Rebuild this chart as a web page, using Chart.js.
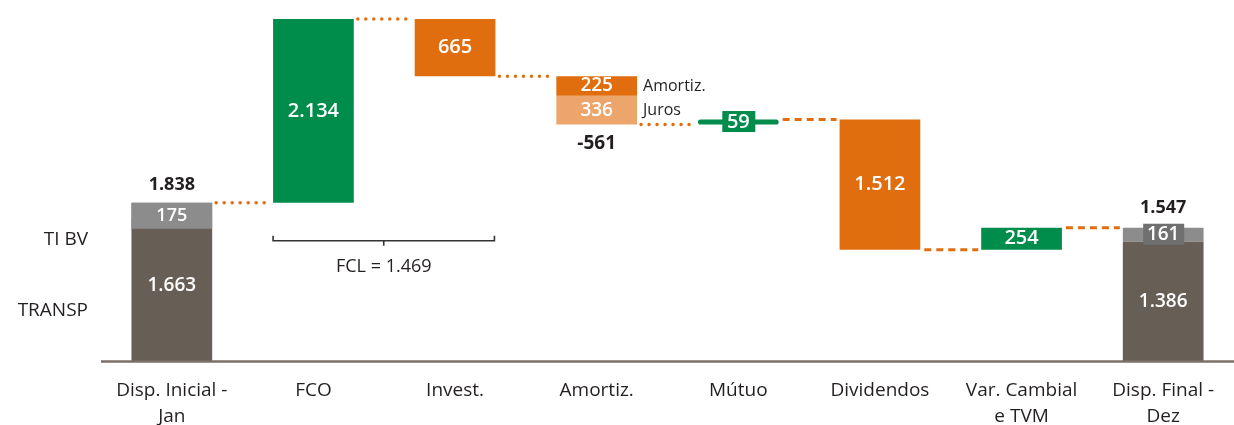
<!DOCTYPE html>
<html>
<head>
    <meta charset="utf-8" />
    <title>Fluxo de caixa</title>
    <style>
        body { margin: 0; background: #fff; overflow: hidden; }
        #contenedorGrafico { width: 1234px; height: 425px; }
    </style>
</head>
<body>
<div id="contenedorGrafico">
    <canvas id="canvasFluxo"></canvas>
</div>
<script type="text/javascript" src="https://cdn.jsdelivr.net/npm/chart.js@4/dist/chart.umd.min.js"></script>
<script type="text/javascript">

    var categorias = [['Disp. Inicial -', 'Jan'], 'FCO', 'Invest.', 'Amortiz.', 'Mútuo', 'Dividendos', ['Var. Cambial', 'e TVM'], ['Disp. Final -', 'Dez']];
    // saldos de abertura e fechamento: [TRANSP, TI BV]
    var saldoInicial = [1663, 175];
    var saldoFinal = [1386, 161];
    // FCO, Invest., Amortiz., Mútuo, Dividendos, Var. Cambial
    var variacoes = [2134, -665, -561, 59, -1512, 254];
    // Amortiz. dividida em principal e juros
    var amortizacao = [225, 336];
    var partesAmortiz = ['Amortiz.', 'Juros'];
    var segmentos = ['TI BV', 'TRANSP'];
    var fcl = 1469;

    var cores = {
        marrom: 'rgb(103, 94, 86)',
        cinza: 'rgb(140, 140, 140)',
        cinzaEscuro: 'rgb(112, 112, 112)',
        verde: 'rgb(0, 140, 75)',
        laranja: 'rgb(224, 110, 15)',
        laranjaClaro: 'rgb(236, 166, 108)',
        texto: '#231f20',
        base: 'rgb(123, 111, 103)'
    };

    var fmt = function (v) {
        var s = String(Math.abs(v)).replace(/\B(?=(\d{3})+(?!\d))/g, '.');
        return (v < 0 ? '-' : '') + s;
    };

    var nCat = categorias.length;
    var vazio = function () { return new Array(nCat).fill(null); };

    var transp = vazio(), tibv = vazio(), entradas = vazio(), saidas = vazio(), juros = vazio();
    var inicio = saldoInicial[0] + saldoInicial[1];
    var fim = saldoFinal[0] + saldoFinal[1];
    transp[0] = [0, saldoInicial[0]];
    tibv[0] = [saldoInicial[0], inicio];
    transp[nCat - 1] = [0, saldoFinal[0]];
    tibv[nCat - 1] = [saldoFinal[0], fim];

    // saldo acumulado depois de cada coluna
    var niveis = [inicio];
    var acumulado = inicio;
    var iAmortiz = categorias.indexOf('Amortiz.');
    var iMutuo = categorias.indexOf('Mútuo');
    variacoes.forEach(function (v, i) {
        var j = i + 1;
        var novo = acumulado + v;
        if (j === iAmortiz) {
            saidas[j] = [acumulado - amortizacao[0], acumulado];
            juros[j] = [novo, acumulado - amortizacao[0]];
        } else if (v >= 0) {
            entradas[j] = [acumulado, novo];
        } else {
            saidas[j] = [novo, acumulado];
        }
        acumulado = novo;
        niveis.push(acumulado);
    });

    var rotulos = {
        id: 'rotulos',
        afterDatasetsDraw: function (chart) {
            var ctx = chart.ctx, area = chart.chartArea;
            var sx = chart.scales.x, sy = chart.scales.y;
            var larg = chart.getDatasetMeta(2).data[1].width;
            var cx = function (j) { return sx.getPixelForValue(j); };

            function texto(t, px, py, cor, peso, tam, alinh) {
                ctx.font = peso + ' ' + tam + 'px "Open Sans"';
                ctx.fillStyle = cor;
                ctx.textAlign = alinh || 'center';
                ctx.textBaseline = 'middle';
                ctx.fillText(t, px, py);
            }
            function meio(par) { return (sy.getPixelForValue(par[0]) + sy.getPixelForValue(par[1])) / 2; }

            ctx.save();

            // linha de base
            ctx.strokeStyle = cores.base;
            ctx.lineWidth = 2.5;
            ctx.beginPath();
            ctx.moveTo(area.left, sy.getPixelForValue(0) + 0.5);
            ctx.lineTo(area.right, sy.getPixelForValue(0) + 0.5);
            ctx.stroke();

            // conectores entre colunas
            ctx.strokeStyle = cores.laranja;
            for (var j = 0; j < niveis.length; j++) {
                var py = sy.getPixelForValue(niveis[j]);
                var x0 = cx(j) + larg / 2 + 4;
                var x1 = cx(j + 1) - larg / 2 - 3;
                if (j < iMutuo) {
                    ctx.setLineDash([0, 8]);
                    ctx.lineCap = 'round';
                    ctx.lineWidth = 3.5;
                } else {
                    ctx.setLineDash([7, 5]);
                    ctx.lineCap = 'butt';
                    ctx.lineWidth = 3;
                }
                ctx.beginPath();
                ctx.moveTo(x0, py);
                ctx.lineTo(x1, py);
                ctx.stroke();
            }
            ctx.setLineDash([]);
            ctx.lineCap = 'butt';

            var branco = '#ffffff';
            var ult = nCat - 1;

            // saldo inicial
            var topo0 = sy.getPixelForValue(inicio);
            ctx.fillStyle = cores.cinza;
            ctx.fillRect(cx(0) - larg / 2, topo0, larg, 26);
            texto(fmt(saldoInicial[1]), cx(0), topo0 + 13, branco, '600', 18);
            texto(fmt(saldoInicial[0]), cx(0), meio(transp[0]) - 4, branco, '600', 19);
            texto(fmt(inicio), cx(0), topo0 - 18, cores.texto, 'bold', 18);

            // saldo final
            var yTi = meio(tibv[ult]);
            ctx.fillStyle = cores.cinzaEscuro;
            ctx.fillRect(cx(ult) - 20, yTi - 11, 41, 21);
            texto(fmt(saldoFinal[1]), cx(ult), yTi, branco, '600', 19);
            texto(fmt(saldoFinal[0]), cx(ult), meio(transp[ult]), branco, '600', 19);
            texto(fmt(fim), cx(ult), sy.getPixelForValue(fim) - 20, cores.texto, 'bold', 18);

            // variações
            for (var k = 1; k < ult; k++) {
                var v = variacoes[k - 1];
                if (k === iAmortiz) {
                    var dir = cx(k) + larg / 2 + 6;
                    texto(fmt(amortizacao[0]), cx(k), meio(saidas[k]), branco, '600', 19);
                    texto(fmt(amortizacao[1]), cx(k), meio(juros[k]), branco, '600', 19);
                    texto(partesAmortiz[0], dir, meio(saidas[k]), cores.texto, 'normal', 16, 'left');
                    texto(partesAmortiz[1], dir, meio(juros[k]), cores.texto, 'normal', 16, 'left');
                    texto(fmt(v), cx(k), sy.getPixelForValue(juros[k][0]) + 19, cores.texto, 'bold', 19);
                } else if (k === iMutuo) {
                    var ym = meio(entradas[k]);
                    ctx.fillStyle = cores.verde;
                    ctx.fillRect(cx(k) - 16, ym - 11, 33, 21);
                    texto(fmt(v), cx(k), ym, branco, '600', 20);
                } else {
                    var par = v >= 0 ? entradas[k] : saidas[k];
                    texto(fmt(Math.abs(v)), cx(k), meio(par), branco, '600', 20);
                }
            }

            // chave do FCL sob FCO e Invest.
            var bx0 = cx(1) - larg / 2, bx1 = cx(2) + larg / 2 - 1;
            var by = sy.getPixelForValue(inicio) + 38;
            var bm = (bx0 + bx1) / 2;
            ctx.strokeStyle = '#333333';
            ctx.lineWidth = 1.6;
            ctx.beginPath();
            ctx.moveTo(bx0, by - 5);
            ctx.lineTo(bx0, by);
            ctx.lineTo(bx1, by);
            ctx.lineTo(bx1, by - 5);
            ctx.moveTo(bm, by);
            ctx.lineTo(bm, by + 5);
            ctx.stroke();
            texto('FCL = ' + fmt(fcl), bm, by + 26, cores.texto, 'normal', 18);

            // nomes dos segmentos à esquerda
            texto(segmentos[0], area.left - 13, area.bottom - 121, cores.texto, 'normal', 19, 'right');
            texto(segmentos[1], area.left - 13, area.bottom - 50, cores.texto, 'normal', 19, 'right');

            ctx.restore();
        }
    };

    var raio = function (c) { return c.dataIndex === iMutuo ? 3 : 0; };

    var config = {
        type: 'bar',
        data: {
            labels: categorias,
            datasets: [
                { label: 'TRANSP', data: transp, backgroundColor: cores.marrom },
                { label: 'TI BV', data: tibv, backgroundColor: cores.cinza },
                { label: 'Entradas', data: entradas, backgroundColor: cores.verde, borderRadius: raio, borderSkipped: false },
                { label: 'Saídas', data: saidas, backgroundColor: cores.laranja },
                { label: 'Juros', data: juros, backgroundColor: cores.laranjaClaro }
            ]
        },
        options: {
            responsive: true,
            maintainAspectRatio: false,
            animation: false,
            datasets: {
                bar: { grouped: false, barPercentage: 0.57, categoryPercentage: 1 }
            },
            layout: { padding: { left: 101, right: 0, top: 19, bottom: 0 } },
            plugins: {
                legend: { display: false },
                tooltip: { enabled: false }
            },
            scales: {
                x: {
                    grid: { display: false, drawTicks: false },
                    border: { display: false },
                    ticks: {
                        color: cores.texto,
                        font: { family: 'Open Sans', size: 19, lineHeight: 1.37 },
                        padding: 17,
                        maxRotation: 0,
                        autoSkip: false
                    },
                    afterFit: function (axis) { axis.height = 64; }
                },
                y: {
                    display: false,
                    min: 0,
                    max: Math.max.apply(null, niveis)
                }
            }
        },
        plugins: [rotulos]
    };

    var canvasGrafico = document.getElementById('canvasFluxo');
    var grafico = new Chart(canvasGrafico.getContext('2d'), config);

</script>
</body>
</html>
